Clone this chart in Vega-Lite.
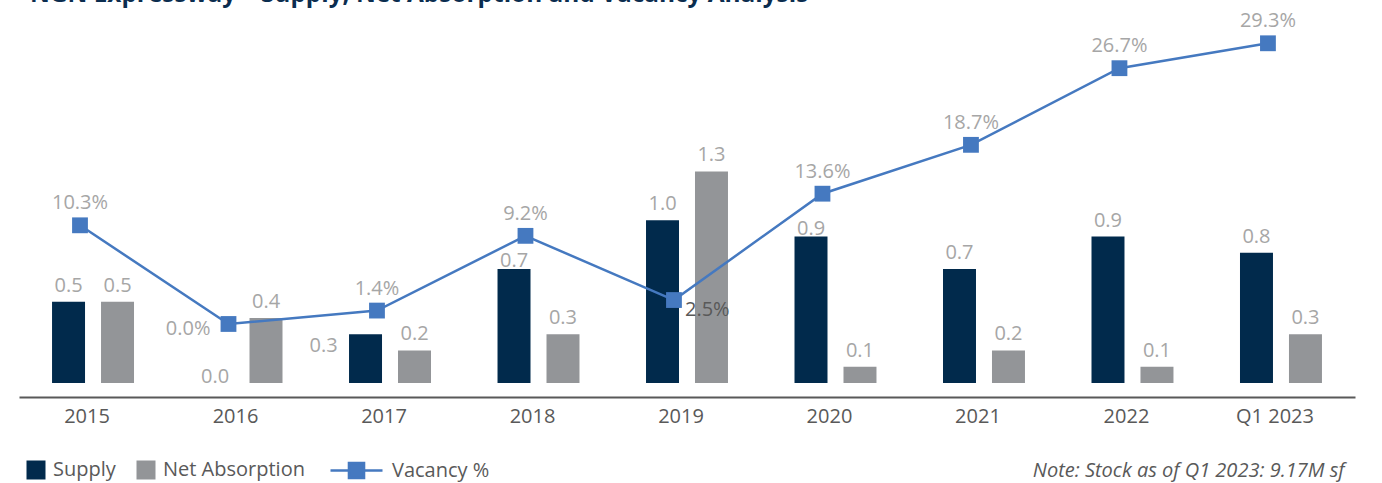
{
  "$schema": "https://vega.github.io/schema/vega-lite/v6.json",
  "autosize": {"type": "none"},
  "width": 1336,
  "height": 363,
  "padding": {"left": 19, "top": 20, "right": 27, "bottom": 100},
  "background": "#ffffff",
  "config": {
    "font": "Open Sans",
    "view": {"stroke": null},
    "axis": {"grid": false}
  },
  "title": {
    "text": "NGN Expressway – Supply, Net Absorption and Vacancy Analysis",
    "anchor": "start",
    "frame": "group",
    "font": "Open Sans",
    "fontSize": 24.4,
    "fontWeight": "bold",
    "color": "#0b2d4f",
    "baseline": "alphabetic",
    "offset": 0,
    "dx": 11,
    "dy": 15
  },
  "datasets": {
    "bars": [
      {"year": "2015", "series": "Supply", "value": 0.5},
      {"year": "2015", "series": "Net Absorption", "value": 0.5},
      {"year": "2016", "series": "Supply", "value": 0.0},
      {"year": "2016", "series": "Net Absorption", "value": 0.4},
      {"year": "2017", "series": "Supply", "value": 0.3},
      {"year": "2017", "series": "Net Absorption", "value": 0.2},
      {"year": "2018", "series": "Supply", "value": 0.7},
      {"year": "2018", "series": "Net Absorption", "value": 0.3},
      {"year": "2019", "series": "Supply", "value": 1.0},
      {"year": "2019", "series": "Net Absorption", "value": 1.3},
      {"year": "2020", "series": "Supply", "value": 0.9},
      {"year": "2020", "series": "Net Absorption", "value": 0.1},
      {"year": "2021", "series": "Supply", "value": 0.7},
      {"year": "2021", "series": "Net Absorption", "value": 0.2},
      {"year": "2022", "series": "Supply", "value": 0.9},
      {"year": "2022", "series": "Net Absorption", "value": 0.1},
      {"year": "Q1 2023", "series": "Supply", "value": 0.8},
      {"year": "Q1 2023", "series": "Net Absorption", "value": 0.3}
    ],
    "vac": [
      {"year": "2015", "series": "Vacancy %", "vacancy": 0.103},
      {"year": "2016", "series": "Vacancy %", "vacancy": 0.0},
      {"year": "2017", "series": "Vacancy %", "vacancy": 0.014},
      {"year": "2018", "series": "Vacancy %", "vacancy": 0.092},
      {"year": "2019", "series": "Vacancy %", "vacancy": 0.025},
      {"year": "2020", "series": "Vacancy %", "vacancy": 0.136},
      {"year": "2021", "series": "Vacancy %", "vacancy": 0.187},
      {"year": "2022", "series": "Vacancy %", "vacancy": 0.267},
      {"year": "Q1 2023", "series": "Vacancy %", "vacancy": 0.293}
    ]
  },
  "layer": [
    {
      "data": {"name": "bars"},
      "encoding": {
        "x": {
          "field": "year", "type": "nominal", "sort": null,
          "scale": {"paddingInner": 0.448, "paddingOuter": 0.2225},
          "axis": {
            "title": "Note: Stock as of Q1 2023: 9.17M sf",
            "titleFont": "Open Sans",
            "titleFontSize": 20,
            "titleFontStyle": "italic",
            "titleFontWeight": "normal",
            "titleColor": "#595959",
            "titleAnchor": "end",
            "titleAlign": "right",
            "titleX": 1325,
            "titlePadding": 34,
            "offset": 14,
            "domainColor": "#595959",
            "domainWidth": 2,
            "ticks": false,
            "labelAngle": 0,
            "labelFontSize": 20,
            "labelColor": "#595959",
            "labelPadding": 9,
            "labelOffset": -6
          }
        },
        "xOffset": {
          "field": "series", "type": "nominal",
          "sort": ["Supply", "Net Absorption"],
          "scale": {"paddingInner": 0.3265, "paddingOuter": 0}
        },
        "y": {
          "field": "value", "type": "quantitative",
          "scale": {"domain": [0, 2.231], "nice": false, "zero": true},
          "axis": null
        }
      },
      "layer": [
        {
          "mark": {"type": "bar"},
          "encoding": {
            "color": {
              "field": "series", "type": "nominal",
              "scale": {"domain": ["Supply", "Net Absorption"], "range": ["#012a4c", "#939598"]},
              "legend": {
                "title": null,
                "orient": "none",
                "direction": "horizontal",
                "legendX": 7,
                "legendY": 440,
                "padding": 0,
                "symbolType": "square",
                "symbolSize": 361,
                "symbolStrokeWidth": 0,
                "labelFont": "Open Sans",
                "labelFontSize": 20,
                "labelColor": "#595959",
                "labelOffset": 7,
                "columnPadding": 20
              }
            }
          }
        },
        {
          "transform": [{"filter": "!(datum.series == 'Supply' && (datum.year == '2016' || datum.year == '2017' || datum.year == '2018' || datum.year == '2020'))"}],
          "mark": {"type": "text", "baseline": "alphabetic", "dy": -10, "fontSize": 20, "color": "#a6a6a6"},
          "encoding": {"text": {"field": "value", "type": "quantitative", "format": ".1f"}}
        },
        {
          "transform": [{"filter": "datum.series == 'Supply' && (datum.year == '2018' || datum.year == '2020')"}],
          "mark": {"type": "text", "baseline": "alphabetic", "dy": -2, "fontSize": 20, "color": "#a6a6a6"},
          "encoding": {"text": {"field": "value", "type": "quantitative", "format": ".1f"}}
        },
        {
          "transform": [{"filter": "datum.series == 'Supply' && datum.year == '2016'"}],
          "mark": {"type": "text", "baseline": "alphabetic", "dy": 0, "dx": -2, "fontSize": 20, "color": "#a6a6a6"},
          "encoding": {"text": {"field": "value", "type": "quantitative", "format": ".1f"}}
        },
        {
          "transform": [{"filter": "datum.series == 'Supply' && datum.year == '2017'"}],
          "mark": {"type": "text", "baseline": "alphabetic", "dy": 18, "dx": -42, "fontSize": 20, "color": "#a6a6a6"},
          "encoding": {"text": {"field": "value", "type": "quantitative", "format": ".1f"}}
        }
      ]
    },
    {
      "data": {"name": "vac"},
      "encoding": {
        "x": {
          "field": "year", "type": "nominal", "sort": null,
          "scale": {"type": "point", "padding": 0.4985, "align": 0.412},
          "axis": null
        },
        "y": {
          "field": "vacancy", "type": "quantitative",
          "scale": {"domain": [-0.0616, 0.3173], "nice": false, "zero": false},
          "axis": null
        }
      },
      "layer": [
        {
          "mark": {"type": "line", "strokeWidth": 2.5},
          "encoding": {
            "stroke": {
              "field": "series", "type": "nominal",
              "scale": {"domain": ["Vacancy %"], "range": ["#4579c0"]},
              "legend": {
                "title": null,
                "orient": "none",
                "direction": "horizontal",
                "legendX": 310,
                "legendY": 423,
                "padding": 0,
                "symbolType": "M-1,0H1M-0.29,-0.29H0.29V0.29H-0.29Z",
                "symbolSize": 2704,
                "symbolStrokeWidth": 2.5,
                "symbolFillColor": "#4579c0",
                "labelFont": "Open Sans",
                "labelFontSize": 20,
                "labelColor": "#595959",
                "labelOffset": 8,
                "encode": {"symbols": {"update": {"fill": {"value": "#4579c0"}, "stroke": {"value": "#4579c0"}, "strokeWidth": {"value": 2.5}}}}
              }
            }
          }
        },
        {
          "mark": {"type": "square", "size": 250, "opacity": 1, "filled": true, "color": "#4579c0"}
        },
        {
          "transform": [{"filter": "datum.year != '2016' && datum.year != '2019'"}],
          "mark": {"type": "text", "baseline": "alphabetic", "dy": -16, "fontSize": 20, "color": "#a6a6a6"},
          "encoding": {"text": {"field": "vacancy", "type": "quantitative", "format": ".1%"}}
        },
        {
          "transform": [{"filter": "datum.year == '2016'"}],
          "mark": {"type": "text", "baseline": "alphabetic", "align": "right", "dx": -18, "dy": 11, "fontSize": 20, "color": "#a6a6a6"},
          "encoding": {"text": {"field": "vacancy", "type": "quantitative", "format": ".1%"}}
        },
        {
          "transform": [{"filter": "datum.year == '2019'"}],
          "mark": {"type": "text", "baseline": "alphabetic", "align": "left", "dx": 11, "dy": 16, "fontSize": 20, "color": "#595959"},
          "encoding": {"text": {"field": "vacancy", "type": "quantitative", "format": ".1%"}}
        }
      ]
    }
  ],
  "resolve": {"scale": {"x": "independent", "y": "independent"}}
}
